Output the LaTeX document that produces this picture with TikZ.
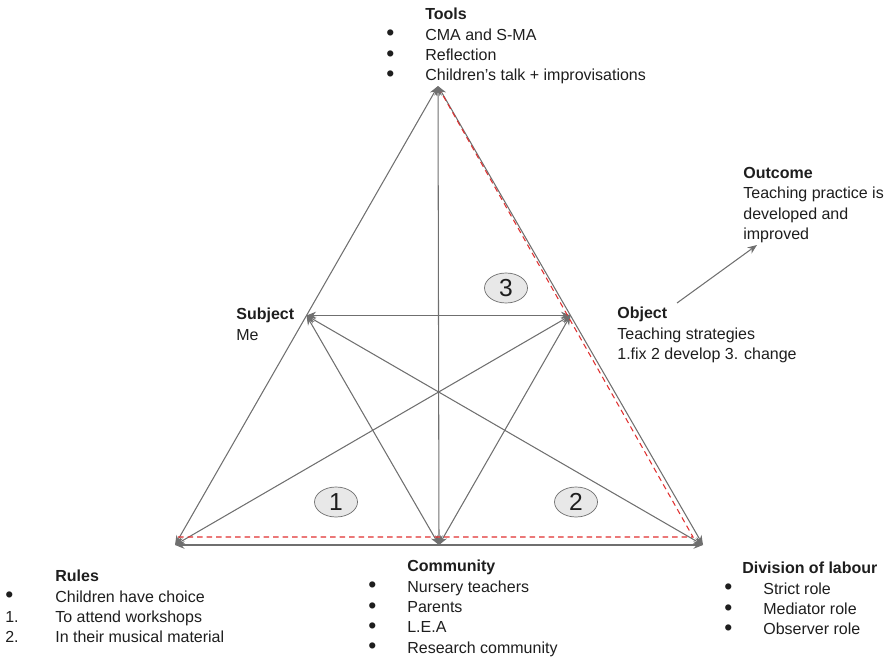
\documentclass[tikz,border=0pt]{standalone}
\usepackage{fontspec}
\setmainfont{Liberation Sans}
\usetikzlibrary{arrows.meta, calc, shapes.geometric}
\definecolor{linegray}{HTML}{6F6F6F}
\definecolor{txt}{HTML}{1E1E1E}
\definecolor{dashred}{HTML}{E03030}
\definecolor{numfill}{HTML}{E8E8E8}
\newcommand{\itemrow}[3]{\makebox[#1][l]{#2}#3}
\newcommand{\dotmark}{\raisebox{-0.4pt}{\fontsize{13}{0}\selectfont •}}

\begin{document}
\begin{tikzpicture}[font=\fontsize{9.1}{11.55}\selectfont, text=txt, blk/.style={anchor=north west, align=left, inner sep=0pt}, link/.style={draw=linegray, line width=0.6pt, {Stealth[length=1.9mm,width=1.5mm]}-{Stealth[length=1.9mm,width=1.5mm]}}, num/.style={ellipse, draw=linegray, fill=numfill, minimum width=0.86cm, minimum height=0.6cm, inner sep=0pt, font=\fontsize{14}{16}\selectfont}]
\useasboundingbox (0,0) rectangle (17.9,-13.14);
% corners of the triangle and the midpoints of its sides
\coordinate (T) at (8.76,-1.72);
\coordinate (L) at (3.5,-10.9);
\coordinate (R) at (14.06,-10.9);
\coordinate (S) at ($(T)!0.5!(L)$);
\coordinate (O) at ($(T)!0.5!(R)$);
\coordinate (M) at ($(L)!0.5!(R)$);
\foreach \a/\b in {T/L,T/R,L/R,T/M,S/O,S/M,S/R,O/L,O/M}{\draw[link] (\a) -- (\b);}
\draw[dashred, line width=0.6pt, dash pattern=on 1.1mm off 0.8mm] ($(L)+(0.06,0.16)$) -- ($(R)+(-0.2,0.16)$) -- ($(T)+(0.06,-0.12)$);
\node[num] (n3) at (10.12,-5.76) {3};
\node[num] (n1) at (6.72,-10.04) {1};
\node[num] (n2) at (11.52,-10.04) {2};
% labels
\node[blk] (tools) at (7.72,-0.16) {\hspace{0.78cm}\textbf{Tools}\\\itemrow{0.78cm}{\dotmark}{CMA and S-MA}\\\itemrow{0.78cm}{\dotmark}{Reflection}\\\itemrow{0.78cm}{\dotmark}{Children’s talk + improvisations}};
\node[blk] (subject) at (4.72,-6.16) {\textbf{Subject}\\Me};
\node[blk] (object) at (12.34,-6.14) {\textbf{Object}\\Teaching strategies\\1.fix 2 develop 3. change};
\node[blk] (outcome) at (14.86,-3.34) {\textbf{Outcome}\\Teaching practice is\\developed and\\improved};
\node[blk] (rules) at (0.1,-11.4) {\hspace{1cm}\textbf{Rules}\\\itemrow{1cm}{\dotmark}{Children have choice}\\\itemrow{1cm}{1.}{To attend workshops}\\\itemrow{1cm}{2.}{In their musical material}};
\node[blk] (community) at (7.36,-11.2) {\hspace{0.78cm}\textbf{Community}\\\itemrow{0.78cm}{\dotmark}{Nursery teachers}\\\itemrow{0.78cm}{\dotmark}{Parents}\\\itemrow{0.78cm}{\dotmark}{L.E.A}\\\itemrow{0.78cm}{\dotmark}{Research community}};
\node[blk] (division) at (14.48,-11.24) {\hspace{0.36cm}\textbf{Division of labour}\\\itemrow{0.78cm}{\dotmark}{Strict role}\\\itemrow{0.78cm}{\dotmark}{Mediator role}\\\itemrow{0.78cm}{\dotmark}{Observer role}};
\coordinate (outtail) at (13.54,-6.06);
\coordinate (outtip) at (15.14,-4.9);
\draw[draw=linegray, line width=0.6pt, -{Stealth[length=1.9mm,width=1.5mm]}] (outtail) -- (outtip);
\end{tikzpicture}
\end{document}
